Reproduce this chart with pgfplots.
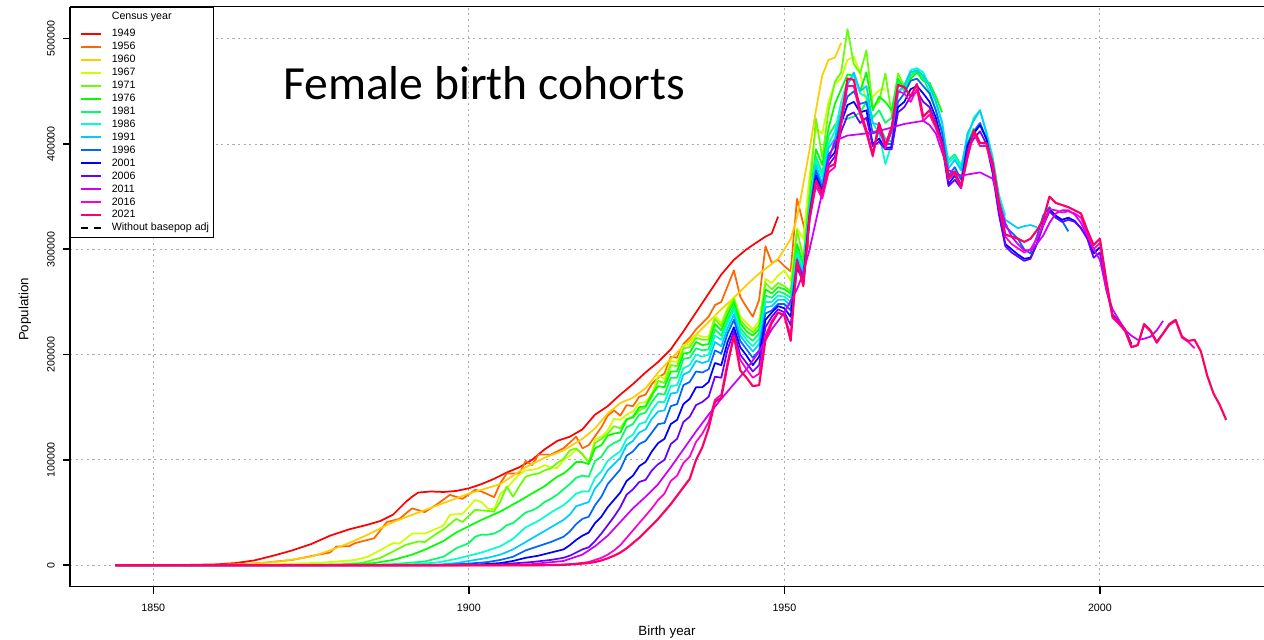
\documentclass[border=0pt]{standalone}
\usepackage{fontspec}
\setmainfont{Liberation Sans}
\newfontfamily\titlefont{Carlito}
\usepackage{pgfplots}
\pgfplotsset{compat=1.18}

\definecolor{c1949}{HTML}{FF0000}
\definecolor{c1956}{HTML}{FF6600}
\definecolor{c1960}{HTML}{FFCC00}
\definecolor{c1967}{HTML}{CCFF00}
\definecolor{c1971}{HTML}{66FF00}
\definecolor{c1976}{HTML}{00FF00}
\definecolor{c1981}{HTML}{00FF66}
\definecolor{c1986}{HTML}{00FFCC}
\definecolor{c1991}{HTML}{00CCFF}
\definecolor{c1996}{HTML}{0066FF}
\definecolor{c2001}{HTML}{0000FF}
\definecolor{c2006}{HTML}{6600FF}
\definecolor{c2011}{HTML}{CC00FF}
\definecolor{c2016}{HTML}{FF00CC}
\definecolor{c2021}{HTML}{FF0066}

\begin{document}
\begin{tikzpicture}
\begin{axis}[
  scale only axis,
  width=895.5pt, height=435pt,
  xmin=1836.8, xmax=2026.0,
  ymin=-20.4, ymax=530.4,
  axis x line*=box, axis y line*=left,
  axis line style={line width=1.2pt},
  xtick={1850,1900,1950,2000},
  xticklabels={1850,1900,1950,2000},
  ytick={0,100,200,300,400,500},
  yticklabels={0,100000,200000,300000,400000,500000},
  xtick pos=left, ytick pos=left,
  tick align=outside,
  major tick length=5.25pt,
  tick style={line width=1.2pt, black},
  ticklabel style={font=\fontsize{8}{9.6}\selectfont},
  xticklabel style={anchor=center, inner sep=0pt, yshift=-10.5pt},
  yticklabel style={xshift=-9pt, rotate=90, anchor=center, inner sep=0pt},
  grid=major,
  major grid style={gray!65, dash pattern=on 1.6pt off 2.6pt, line width=0.7pt},
  xlabel={Birth year}, ylabel={Population},
  label style={font=\fontsize{8}{9.6}\selectfont},
  every axis x label/.style={at={(rel axis cs:0.5,0)}, anchor=center, yshift=-33.75pt},
  every axis y label/.style={at={(rel axis cs:0,0.478)}, xshift=-33.75pt, rotate=90, anchor=center},
  legend style={at={(rel axis cs:0,1)}, anchor=north west,
    font=\fontsize{8}{9.6}\selectfont, draw=black, line width=1pt, fill=white,
    inner xsep=3.4pt, inner ysep=3.5pt, row sep=2.2pt,
    nodes={inner sep=0pt, text height=6pt, text depth=1.5pt, anchor=west},
    /tikz/every odd column/.append style={column sep=7.3pt}},
  legend cell align=left,
  legend image code/.code={\path (-3.6pt,0pt); \draw[#1, line width=1.5pt] (0pt,0pt) -- (15pt,0pt);},
  every axis plot/.append style={line width=1.3pt, line join=round},
]
\addlegendimage{empty legend}
\addlegendentry[text depth=4.5pt]{Census year}

\addplot[c1949] coordinates {(1844,0)(1850,0)(1855,0.2)(1860,0.8)(1863,2)(1866,4.5)(1869,9)(1872,14)(1875,20)(1878,28)(1881,34)(1884,38.5)(1886,42)(1888,48)(1890,60)(1891,65)(1892,69)(1894,70)(1896,69.5)(1898,70.5)(1900,73)(1902,77)(1904,82)(1906,88)(1908,93)(1910,100)(1912,110)(1914,118)(1916,122)(1918,129)(1920,143)(1922,151)(1924,162)(1926,172)(1928,183)(1930,193)(1932,205)(1934,222)(1936,240)(1938,258)(1940,276)(1942,290)(1944,300)(1946,308)(1947,312)(1948,315)(1949,331)};
\addlegendentry{1949}
\addplot[c1956] coordinates {(1844,0)(1855,0)(1862,0.3)(1867,2)(1872,5)(1876,9.8)(1878,12)(1879,17.7)(1881,18)(1882,21)(1885,25.6)(1887,41)(1889,44)(1891,54)(1893,50.4)(1895,58)(1897,66.8)(1899,63)(1901,71.6)(1902,70)(1904,64.6)(1905,78)(1906,87)(1908,87)(1909,99)(1910,95)(1911,105)(1913,105)(1915,111)(1917,122)(1918,111)(1919,114)(1921,131)(1922,142)(1923,147)(1924,142)(1925,152)(1926,151)(1927,160)(1928,162)(1929,172)(1930,178)(1931,182)(1932,198)(1933,197)(1934,210)(1935,216)(1936,224)(1937,230)(1938,236)(1939,247)(1940,250)(1941,265)(1942,280)(1943,255)(1944,245)(1945,236)(1946,252)(1947,303)(1948,287)(1949,290)(1950,284)(1951,279)(1952,348)(1953,324)(1954,300)};
\addlegendentry{1956}
\addplot[c1960] coordinates {(1844,0)(1860,0.3)(1865,1)(1870,3.5)(1875,8)(1878,14)(1881,21)(1884,29)(1888,41)(1892,50)(1896,59)(1900,68)(1905,77)(1909,93)(1912,102)(1915,109)(1918,120)(1920,130)(1922,144)(1924,154)(1926,159)(1928,168)(1930,183)(1932,196)(1934,208)(1936,219)(1938,231)(1940,243)(1942,254)(1944,266)(1946,277)(1948,286)(1949,291)(1950,300)(1951,310)(1952,330)(1953,362)(1954,395)(1955,432)(1956,465)(1957,480)(1958,482)(1959,496)};
\addlegendentry{1960}
\addplot[c1967] coordinates {(1844,0)(1860,0)(1868,0.5)(1873,1.5)(1877,2.5)(1882,5)(1884,8)(1886,14.5)(1888,21)(1889,20.5)(1891,30)(1893,30)(1895,35)(1896,38)(1897,47.8)(1899,48.8)(1901,62)(1902,60)(1903,54)(1904,53)(1905,68)(1906,73)(1907,80)(1908,86)(1909,90)(1910,90.5)(1911,92)(1912,95)(1913,93)(1914,92)(1915,100)(1916,104)(1917,110)(1918,106)(1919,97)(1920,120)(1921,122)(1922,128)(1923,139)(1924,138)(1925,143)(1926,146)(1927,154)(1928,155)(1929,163)(1930,180)(1931,177)(1932,194)(1933,193)(1934,209)(1935,210)(1936,219)(1937,217)(1938,217)(1939,237)(1940,230)(1941,245)(1942,255)(1943,236)(1944,230)(1945,224)(1946,232)(1947,272)(1948,268)(1949,275)(1950,280)(1951,270)(1952,320)(1953,310)(1954,370)(1955,415)(1956,410)(1957,440)(1958,457)(1959,462)(1960,480)(1961,483)(1962,467)(1963,440)(1964,445)(1965,451)(1966,452)};
\addlegendentry{1967}
\addplot[c1971] coordinates {(1844,0)(1865,0)(1875,0.5)(1880,1)(1883,2)(1886,7)(1888,13)(1890,19.3)(1892,22.5)(1893,22)(1895,30.4)(1896,34)(1898,44)(1899,41)(1901,52.6)(1902,52)(1904,51)(1905,60.5)(1906,74.8)(1907,65)(1908,75)(1909,84)(1910,86)(1911,87)(1912,90)(1913,92)(1914,97)(1915,101)(1916,109)(1917,111)(1918,105)(1919,98)(1920,116)(1921,120)(1922,125)(1923,132)(1924,130)(1925,139)(1926,140)(1927,147)(1928,150)(1929,160)(1930,175)(1931,173)(1932,190)(1933,189)(1934,206)(1935,207)(1936,216)(1937,214)(1938,214)(1939,234)(1940,227)(1941,242)(1942,253)(1943,233)(1944,226)(1945,221)(1946,228)(1947,268)(1948,262)(1949,268)(1950,265)(1951,260)(1952,318)(1953,292)(1954,355)(1955,424)(1956,387)(1957,432)(1958,459)(1959,468)(1960,509)(1961,476)(1962,467)(1963,489)(1964,435)(1965,440)(1966,467)(1967,428)(1968,467)(1969,455)(1970,462)};
\addlegendentry{1971}
\addplot[c1976] coordinates {(1844,0)(1870,0)(1880,0.5)(1885,2)(1888,5)(1891,10)(1893,14.6)(1896,23)(1898,31)(1900,37)(1902,43)(1905,51)(1908,61)(1910,68)(1912,75)(1914,84)(1915,87)(1916,92)(1917,98)(1918,98)(1919,96)(1920,111)(1921,114)(1922,123)(1923,125)(1924,126)(1925,138)(1926,141)(1927,150)(1928,151)(1929,162)(1930,170)(1931,169)(1932,184)(1933,184)(1934,201)(1935,202)(1936,212)(1937,209)(1938,210)(1939,229)(1940,223)(1941,238)(1942,250)(1943,230)(1944,222)(1945,218)(1946,224)(1947,262)(1948,258)(1949,264)(1950,262)(1951,258)(1952,305)(1953,286)(1954,345)(1955,395)(1956,380)(1957,415)(1958,438)(1959,452)(1960,466)(1961,465)(1962,450)(1963,468)(1964,432)(1965,445)(1966,440)(1967,432)(1968,462)(1969,452)(1970,462)(1971,468)(1972,460)(1973,458)(1974,445)(1975,430)};
\addlegendentry{1976}
\addplot[c1981] coordinates {(1844,0)(1880,0)(1888,1)(1893,3.5)(1896,8)(1898,16)(1900,21)(1901,27)(1902,29)(1903,29)(1904,30)(1905,33)(1906,38)(1907,40)(1908,45)(1909,50)(1910,52)(1911,55)(1912,60)(1913,63)(1914,67)(1915,72)(1916,77)(1917,83)(1918,85)(1919,84)(1920,99)(1921,103)(1922,112)(1923,116)(1924,119)(1925,131)(1926,134)(1927,143)(1928,145)(1929,155)(1930,163)(1931,162)(1932,178)(1933,178)(1934,196)(1935,197)(1936,206)(1937,204)(1938,205)(1939,224)(1940,218)(1941,233)(1942,246)(1943,225)(1944,218)(1945,213)(1946,220)(1947,256)(1948,254)(1949,260)(1950,258)(1951,254)(1952,300)(1953,282)(1954,342)(1955,388)(1956,372)(1957,408)(1958,418)(1959,424)(1960,424)(1961,426)(1962,430)(1963,440)(1964,425)(1965,432)(1966,420)(1967,425)(1968,460)(1969,450)(1970,465)(1971,470)(1972,462)(1973,450)(1974,432)(1975,412)(1976,385)(1977,390)(1978,380)(1979,400)(1980,415)};
\addlegendentry{1981}
\addplot[c1986] coordinates {(1844,0)(1885,0)(1890,0.5)(1895,2.5)(1898,6)(1900,9)(1902,12)(1905,18)(1907,25)(1909,36)(1911,42)(1913,50)(1915,57)(1916,62)(1917,68)(1918,70)(1919,70)(1920,83)(1921,89)(1922,99)(1923,104)(1924,108)(1925,120)(1926,124)(1927,134)(1928,136)(1929,147)(1930,155)(1931,155)(1932,170)(1933,171)(1934,187)(1935,190)(1936,200)(1937,198)(1938,200)(1939,218)(1940,214)(1941,230)(1942,243)(1943,222)(1944,214)(1945,208)(1946,215)(1947,250)(1948,250)(1949,256)(1950,255)(1951,250)(1952,296)(1953,280)(1954,340)(1955,385)(1956,368)(1957,400)(1958,412)(1959,440)(1960,460)(1961,465)(1962,448)(1963,445)(1964,420)(1965,410)(1966,381)(1967,400)(1968,450)(1969,455)(1970,470)(1971,472)(1972,468)(1973,455)(1974,440)(1975,420)(1976,382)(1977,388)(1978,378)(1979,405)(1980,425)(1981,432)(1982,412)(1983,388)(1984,352)(1985,332)};
\addlegendentry{1986}
\addplot[c1991] coordinates {(1844,0)(1890,0)(1895,0.5)(1898,2)(1900,4)(1903,7)(1905,10)(1907,15)(1909,22)(1911,29)(1913,36)(1915,43)(1916,48)(1917,56)(1918,58)(1919,60)(1920,73)(1921,80)(1922,90)(1923,96)(1924,102)(1925,114)(1926,118)(1927,126)(1928,129)(1929,139)(1930,146)(1931,147)(1932,163)(1933,164)(1934,181)(1935,184)(1936,194)(1937,192)(1938,194)(1939,212)(1940,208)(1941,225)(1942,238)(1943,218)(1944,210)(1945,203)(1946,210)(1947,245)(1948,246)(1949,252)(1950,252)(1951,246)(1952,292)(1953,278)(1954,338)(1955,380)(1956,362)(1957,396)(1958,405)(1959,432)(1960,456)(1961,468)(1962,450)(1963,455)(1964,420)(1965,418)(1966,405)(1967,402)(1968,448)(1969,456)(1970,468)(1971,470)(1972,465)(1973,455)(1974,440)(1975,420)(1976,377)(1977,385)(1978,375)(1979,410)(1980,422)(1981,432)(1982,410)(1983,385)(1984,348)(1985,328)(1986,324)(1987,320)(1988,322)(1989,323)(1990,321)};
\addlegendentry{1991}
\addplot[c1996] coordinates {(1844,0)(1895,0)(1900,1.5)(1903,3)(1905,5)(1907,8)(1909,14)(1911,18)(1913,22)(1915,27)(1916,32)(1917,39)(1918,44)(1919,46)(1920,57)(1921,65)(1922,77)(1923,84)(1924,91)(1925,104)(1926,108)(1927,115)(1928,118)(1929,126)(1930,134)(1931,135)(1932,151)(1933,153)(1934,171)(1935,174)(1936,184)(1937,183)(1938,186)(1939,204)(1940,201)(1941,220)(1942,233)(1943,213)(1944,205)(1945,197)(1946,204)(1947,239)(1948,242)(1949,248)(1950,248)(1951,242)(1952,288)(1953,275)(1954,335)(1955,375)(1956,358)(1957,390)(1958,398)(1959,425)(1960,445)(1961,450)(1962,438)(1963,440)(1964,410)(1965,412)(1966,400)(1967,400)(1968,440)(1969,448)(1970,460)(1971,462)(1972,455)(1973,448)(1974,432)(1975,410)(1976,370)(1977,378)(1978,366)(1979,400)(1980,412)(1981,420)(1982,405)(1983,378)(1984,340)(1985,322)(1986,316)(1987,310)(1988,300)(1989,296)(1990,312)(1991,332)(1992,340)(1993,330)(1994,327)(1995,317)};
\addlegendentry{1996}
\addplot[c2001] coordinates {(1844,0)(1898,0)(1902,0.8)(1905,2)(1907,4)(1909,7)(1911,9)(1913,12)(1915,15)(1916,19)(1917,24)(1918,28)(1919,31)(1920,40)(1921,46)(1922,55)(1923,62)(1924,69)(1925,80)(1926,85)(1927,94)(1928,98)(1929,108)(1930,116)(1931,120)(1932,134)(1933,138)(1934,153)(1935,158)(1936,169)(1937,169)(1938,174)(1939,192)(1940,190)(1941,212)(1942,226)(1943,207)(1944,199)(1945,190)(1946,198)(1947,233)(1948,240)(1949,246)(1950,244)(1951,236)(1952,285)(1953,272)(1954,332)(1955,370)(1956,355)(1957,385)(1958,392)(1959,420)(1960,437)(1961,440)(1962,430)(1963,432)(1964,400)(1965,405)(1966,396)(1967,397)(1968,435)(1969,440)(1970,452)(1971,455)(1972,448)(1973,440)(1974,425)(1975,402)(1976,362)(1977,370)(1978,360)(1979,398)(1980,410)(1981,418)(1982,405)(1983,375)(1984,335)(1985,305)(1986,300)(1987,295)(1988,291)(1989,292)(1990,305)(1991,325)(1992,338)(1993,332)(1994,328)(1995,330)(1996,327)(1997,320)(1998,311)(1999,296)(2000,302)};
\addlegendentry{2001}
\addplot[c2006] coordinates {(1844,0)(1900,0)(1905,0.8)(1910,3)(1913,5)(1915,7)(1916,9)(1917,12)(1918,15)(1919,17)(1920,23)(1921,30)(1922,38)(1923,46)(1924,55)(1925,67)(1926,72)(1927,79)(1928,81)(1929,90)(1930,96)(1931,100)(1932,115)(1933,120)(1934,136)(1935,141)(1936,152)(1937,155)(1938,160)(1939,179)(1940,178)(1941,205)(1942,222)(1943,200)(1944,192)(1945,184)(1946,190)(1947,226)(1948,236)(1949,243)(1950,240)(1951,228)(1952,282)(1953,270)(1954,330)(1955,365)(1956,350)(1957,380)(1958,388)(1959,412)(1960,427)(1961,430)(1962,420)(1963,425)(1964,398)(1965,402)(1966,395)(1967,395)(1968,430)(1969,435)(1970,445)(1971,450)(1972,440)(1973,435)(1974,420)(1975,398)(1976,360)(1977,366)(1978,358)(1979,395)(1980,405)(1981,412)(1982,400)(1983,372)(1984,333)(1985,303)(1986,297)(1987,293)(1988,289)(1989,291)(1990,305)(1991,322)(1992,336)(1993,330)(1994,326)(1995,328)(1996,326)(1997,320)(1998,310)(1999,292)(2000,297)(2001,262)(2002,238)(2003,232)(2004,224)(2005,210)};
\addlegendentry{2006}
\addplot[c2011] coordinates {(1844,0)(1905,0)(1910,1)(1915,4)(1918,10)(1920,18)(1922,28)(1924,41)(1926,54)(1928,65)(1930,77)(1932,93)(1934,110)(1936,127)(1938,143)(1940,158)(1942,172)(1944,186)(1946,203)(1948,224)(1950,240)(1952,262)(1953,278)(1954,300)(1955,327)(1956,354)(1957,385)(1958,403)(1960,408)(1963,410)(1966,414)(1969,419)(1972,422)(1973,418)(1974,410)(1975,392)(1976,375)(1978,370)(1980,372)(1981,373)(1983,367)(1984,345)(1985,325)(1986,312)(1987,305)(1988,299)(1989,299)(1990,305)(1991,313)(1992,325)(1993,334)(1994,337)(1995,337)(1996,333)(1997,325)(1998,313)(1999,300)(2000,290)(2001,262)(2002,243)(2003,233)(2004,223)(2005,218)(2006,214)(2007,215)(2008,217)(2009,223)(2010,232)};
\addlegendentry{2011}
\addplot[c2016] coordinates {(1844,0)(1910,0)(1913,0.3)(1915,0.6)(1917,1.5)(1919,3)(1920,5)(1921,7)(1922,10)(1923,14)(1924,19)(1925,26)(1926,33)(1927,40)(1928,47)(1929,54)(1930,62)(1931,68)(1932,80)(1933,85)(1934,97)(1935,103)(1936,117)(1937,125)(1938,136)(1939,157)(1940,162)(1941,193)(1942,218)(1943,195)(1944,186)(1945,178)(1946,182)(1947,218)(1948,232)(1949,240)(1950,237)(1951,218)(1952,288)(1953,266)(1954,328)(1955,360)(1956,348)(1957,373)(1958,378)(1959,418)(1960,455)(1961,455)(1962,428)(1963,410)(1964,388)(1965,416)(1966,396)(1967,412)(1968,450)(1969,448)(1970,440)(1971,452)(1972,422)(1973,428)(1974,415)(1975,398)(1976,366)(1977,372)(1978,358)(1979,386)(1980,410)(1981,398)(1982,398)(1983,378)(1984,340)(1985,312)(1986,305)(1987,301)(1988,297)(1989,300)(1990,310)(1991,323)(1992,338)(1993,337)(1994,335)(1995,336)(1996,334)(1997,330)(1998,315)(1999,300)(2000,306)(2001,268)(2002,235)(2003,229)(2004,222)(2005,207)(2006,209)(2007,228)(2008,222)(2009,211)(2010,220)(2011,228)(2012,232)(2013,216)(2014,212)(2015,206)};
\addlegendentry{2016}
\addplot[c2021, line width=1.6pt] coordinates {(1844,0)(1912,0)(1915,0.3)(1917,1)(1919,2)(1920,3)(1921,4.5)(1922,6.5)(1923,9)(1924,12)(1925,16)(1926,21)(1927,26)(1928,32)(1929,38)(1930,44)(1931,51)(1932,58)(1933,66)(1934,74)(1935,82)(1936,100)(1937,112)(1938,130)(1939,155)(1940,159)(1941,190)(1942,218)(1943,185)(1944,178)(1945,170)(1946,171)(1947,214)(1948,230)(1949,240)(1950,237)(1951,213)(1952,290)(1953,265)(1954,330)(1955,365)(1956,353)(1957,378)(1958,381)(1959,423)(1960,462)(1961,461)(1962,432)(1963,413)(1964,390)(1965,420)(1966,399)(1967,416)(1968,456)(1969,454)(1970,445)(1971,457)(1972,426)(1973,432)(1974,418)(1975,400)(1976,368)(1977,374)(1978,360)(1979,388)(1980,413)(1981,401)(1982,401)(1983,382)(1984,345)(1985,314)(1986,312)(1987,310)(1988,307)(1989,310)(1990,318)(1991,328)(1992,350)(1993,344)(1994,342)(1995,340)(1996,337)(1997,334)(1998,318)(1999,304)(2000,310)(2001,271)(2002,236)(2003,230)(2004,223)(2005,207)(2006,209)(2007,229)(2008,223)(2009,212)(2010,220)(2011,229)(2012,233)(2013,217)(2014,213)(2015,214)(2016,203)(2017,180)(2018,163)(2019,152)(2020,138)};
\addlegendentry{2021}
\addlegendimage{black, dash pattern=on 5.2pt off 4.8pt}
\addlegendentry{Without basepop adj}

\node[anchor=base west, inner sep=0pt, font=\titlefont\fontsize{35.7}{40}\selectfont] at (axis cs:1870.55,441.9) {Female birth cohorts};

\coordinate (BL) at (rel axis cs:0,0);
\coordinate (TR) at (rel axis cs:1,1);
\end{axis}
\pgfresetboundingbox
\path[use as bounding box] ([xshift=-52.5pt,yshift=-39.75pt]BL) rectangle ([yshift=5pt]TR);
\end{tikzpicture}
\end{document}
